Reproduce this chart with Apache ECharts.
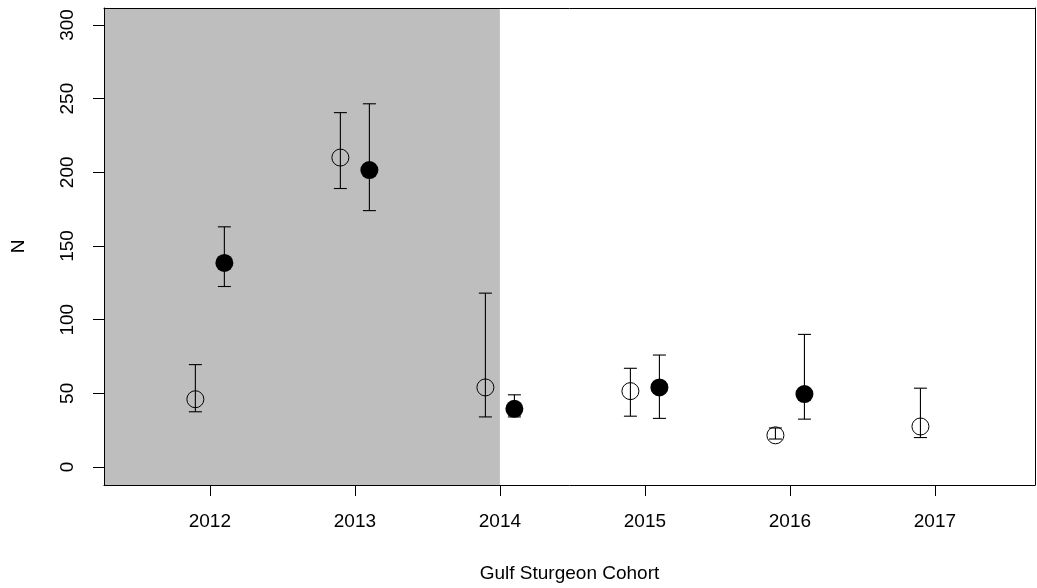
<!DOCTYPE html>
<html>
<head>
<meta charset="utf-8">
<title>Gulf Sturgeon Cohort</title>
<script src="https://cdn.jsdelivr.net/npm/echarts@6/dist/echarts.min.js"></script>
<style>
  html, body { margin: 0; padding: 0; background: #fff; }
  #chart { width: 1037px; height: 588px; }
</style>
</head>
<body>
<div id="chart"></div>
<script>
// Cohort years and tick labels
const years = [2012, 2013, 2014, 2015, 2016, 2017];
const yTicks = [0, 50, 100, 150, 200, 250, 300];

// Open-circle estimates with lower / upper bounds
const openN  = [46, 210, 54, 51.5, 21.5, 27.5];
const openLo = [37.5, 189, 34, 34.5, 19, 20];
const openHi = [69.5, 240.5, 118, 67, 26.5, 53.5];

// Filled-circle estimates with lower / upper bounds (no 2017 value)
const filledN  = [138.5, 201.5, 39.5, 54, 49.5, null];
const filledLo = [122.5, 174, 34, 33, 32.5, null];
const filledHi = [163, 246.5, 49, 76, 90, null];

// Shaded period ends at this cohort
const shadeEnd = 2014;

const X_MIN = 2011.27, X_MAX = 2017.69;
const Y_MIN = -12.2, Y_MAX = 311.5;
const OFFSET = 0.1;
const FONT = '"Liberation Sans", Arial, sans-serif';

function pts(vals, shift) {
  const out = [];
  years.forEach((y, i) => { if (vals[i] != null) out.push([y + shift, vals[i]]); });
  return out;
}
function bars(lo, hi, shift) {
  const out = [];
  years.forEach((y, i) => { if (lo[i] != null) out.push([y + shift, lo[i], hi[i]]); });
  return out;
}

function renderErrorBar(params, api) {
  const x = api.value(0), lo = api.value(1), hi = api.value(2);
  const top = api.coord([x, hi]);
  const bot = api.coord([x, lo]);
  const w = 6.5;
  const st = { stroke: '#000', lineWidth: 1.1 };
  return {
    type: 'group',
    children: [
      { type: 'line', shape: { x1: top[0], y1: top[1], x2: bot[0], y2: bot[1] }, style: st },
      { type: 'line', shape: { x1: top[0] - w, y1: top[1], x2: top[0] + w, y2: top[1] }, style: st },
      { type: 'line', shape: { x1: bot[0] - w, y1: bot[1], x2: bot[0] + w, y2: bot[1] }, style: st }
    ]
  };
}

const chart = echarts.init(document.getElementById('chart'), null, { renderer: 'canvas' });

const lineBlack = { color: '#000', width: 1 };
const frameLine = { show: true, onZero: false, lineStyle: lineBlack };

chart.setOption({
  animation: false,
  backgroundColor: '#fff',
  grid: { left: 104, right: 2, top: 8, bottom: 101, containLabel: false },
  xAxis: [
    {
      type: 'value', position: 'bottom', min: X_MIN, max: X_MAX, z: 10,
      axisLine: frameLine,
      axisTick: { show: true, customValues: years, length: 11, lineStyle: lineBlack },
      axisLabel: { customValues: years, color: '#000', fontSize: 19, fontFamily: FONT, margin: 27,
                   formatter: v => String(Math.round(v)) },
      splitLine: { show: false },
      name: 'Gulf Sturgeon Cohort', nameLocation: 'middle', nameGap: 79,
      nameTextStyle: { color: '#000', fontSize: 19, fontFamily: FONT }
    },
    {
      type: 'value', position: 'top', min: X_MIN, max: X_MAX, z: 10,
      axisLine: frameLine,
      axisTick: { show: false }, axisLabel: { show: false }, splitLine: { show: false }
    }
  ],
  yAxis: [
    {
      type: 'value', position: 'left', min: Y_MIN, max: Y_MAX, z: 10,
      axisLine: frameLine,
      axisTick: { show: true, customValues: yTicks, length: 11, lineStyle: lineBlack },
      axisLabel: { customValues: yTicks, rotate: 90, color: '#000', fontSize: 19, fontFamily: FONT, margin: 27,
                   formatter: v => String(Math.round(v)) },
      splitLine: { show: false },
      name: 'N', nameLocation: 'middle', nameGap: 76, nameRotate: 90,
      nameTextStyle: { color: '#000', fontSize: 19, fontFamily: FONT }
    },
    {
      type: 'value', position: 'right', min: Y_MIN, max: Y_MAX, z: 10,
      axisLine: frameLine,
      axisTick: { show: false }, axisLabel: { show: false }, splitLine: { show: false }
    }
  ],
  series: [
    {
      type: 'custom', name: 'shade', z: 1, silent: true,
      renderItem: () => ({ type: 'group', children: [] }),
      data: [[X_MIN, 0, 0]],
      markArea: {
        silent: true,
        itemStyle: { color: '#bebebe', opacity: 1, borderWidth: 0 },
        data: [[{ xAxis: X_MIN }, { xAxis: shadeEnd }]]
      }
    },
    {
      type: 'custom', name: 'open bounds', z: 3, silent: true,
      renderItem: renderErrorBar,
      encode: { x: 0, y: [1, 2] },
      data: bars(openLo, openHi, -OFFSET)
    },
    {
      type: 'custom', name: 'filled bounds', z: 3, silent: true,
      renderItem: renderErrorBar,
      encode: { x: 0, y: [1, 2] },
      data: bars(filledLo, filledHi, OFFSET)
    },
    {
      type: 'scatter', name: 'open', z: 4, silent: true,
      symbol: 'circle', symbolSize: 17,
      itemStyle: { color: 'rgba(0,0,0,0)', borderColor: '#000', borderWidth: 1, opacity: 1 },
      data: pts(openN, -OFFSET)
    },
    {
      type: 'scatter', name: 'filled', z: 4, silent: true,
      symbol: 'circle', symbolSize: 18,
      itemStyle: { color: '#000', borderColor: '#000', borderWidth: 0, opacity: 1 },
      data: pts(filledN, OFFSET)
    }
  ]
});
</script>
</body>
</html>
